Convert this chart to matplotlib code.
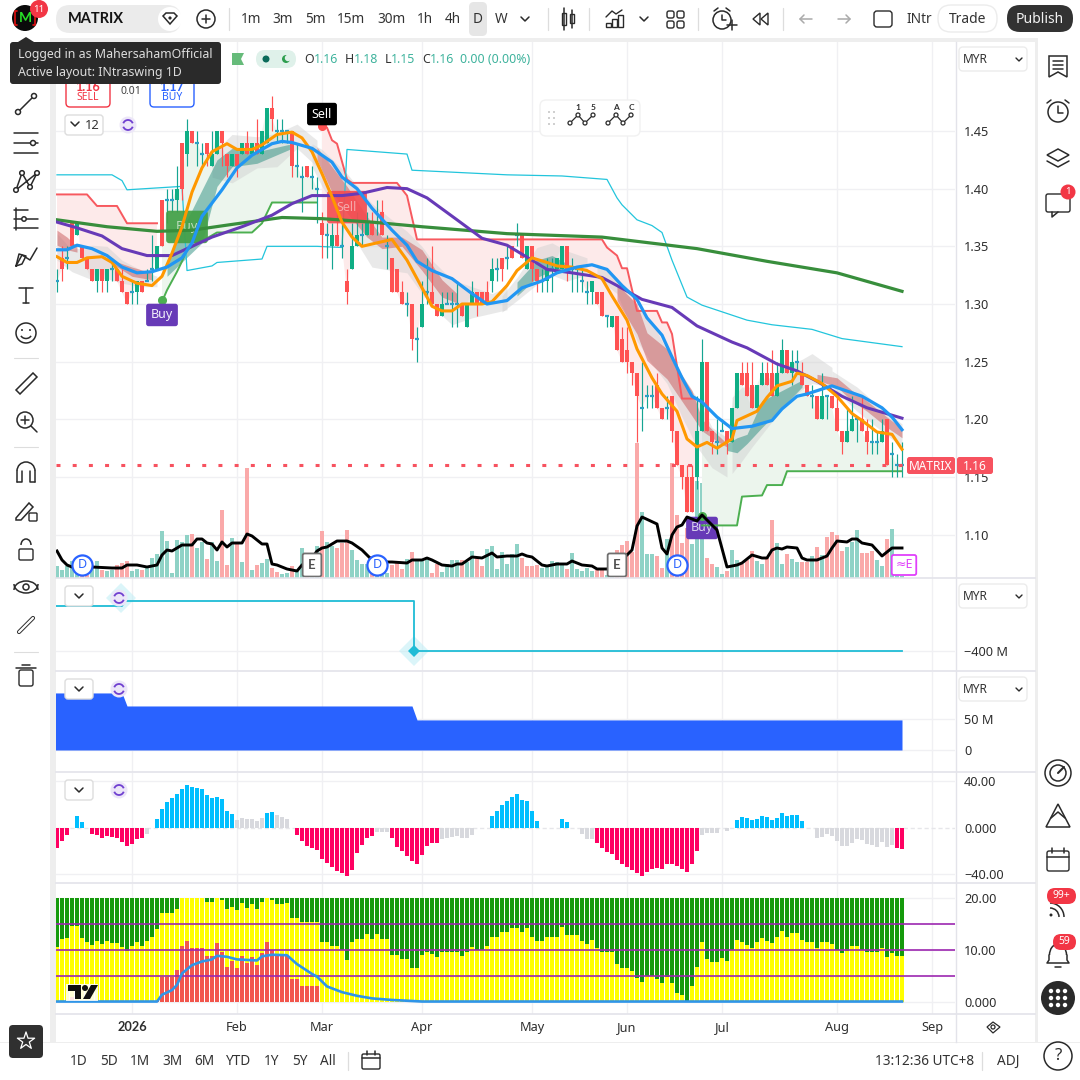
import numpy as np
import matplotlib
matplotlib.use("Agg")
import matplotlib.pyplot as plt
from matplotlib.patches import FancyBboxPatch, Circle, Rectangle, Polygon, Arc

plt.rcParams['font.family'] = ['Noto Sans', 'DejaVu Sans']
BOLD = ['Lato', 'DejaVu Sans']

W, H = 1080, 1080

# ---- candles, one per trading day (170 bars)
opens = [1.32,1.34,1.34,1.37,1.36,1.35,1.34,1.33,1.32,1.33,
         1.32,1.33,1.33,1.32,1.31,1.31,1.31,1.32,1.32,1.33,
         1.33,1.39,1.39,1.39,1.39,1.44,1.43,1.45,1.44,1.43,
         1.44,1.42,1.43,1.45,1.43,1.42,1.43,1.43,1.44,1.43,
         1.44,1.43,1.44,1.47,1.45,1.45,1.45,1.45,1.42,1.41,
         1.42,1.41,1.40,1.37,1.36,1.35,1.36,1.35,1.32,1.33,
         1.35,1.36,1.36,1.37,1.37,1.38,1.35,1.34,1.33,1.31,
         1.30,1.30,1.27,1.28,1.31,1.31,1.30,1.29,1.30,1.30,
         1.30,1.30,1.28,1.30,1.31,1.31,1.31,1.32,1.33,1.34,
         1.34,1.35,1.36,1.36,1.33,1.35,1.33,1.32,1.32,1.33,
         1.33,1.33,1.35,1.33,1.33,1.32,1.31,1.31,1.31,1.31,
         1.29,1.28,1.29,1.27,1.26,1.25,1.24,1.21,1.22,1.22,
         1.23,1.21,1.21,1.22,1.19,1.16,1.15,1.15,1.15,1.19,
         1.25,1.19,1.18,1.19,1.19,1.18,1.21,1.24,1.24,1.23,
         1.21,1.23,1.24,1.24,1.22,1.24,1.26,1.24,1.25,1.24,
         1.23,1.22,1.22,1.20,1.22,1.22,1.21,1.19,1.18,1.19,
         1.20,1.20,1.19,1.18,1.18,1.18,1.20,1.17,1.16,1.16]
highs = [1.33,1.35,1.35,1.37,1.37,1.35,1.34,1.33,1.33,1.33,
         1.33,1.34,1.33,1.33,1.31,1.32,1.32,1.32,1.33,1.36,
         1.35,1.39,1.40,1.40,1.42,1.44,1.46,1.45,1.45,1.44,
         1.44,1.45,1.45,1.45,1.43,1.43,1.43,1.44,1.45,1.44,
         1.46,1.45,1.47,1.48,1.46,1.46,1.45,1.45,1.44,1.42,
         1.42,1.42,1.41,1.38,1.37,1.37,1.38,1.37,1.33,1.37,
         1.38,1.37,1.38,1.38,1.39,1.39,1.36,1.34,1.33,1.32,
         1.31,1.30,1.28,1.32,1.34,1.35,1.30,1.31,1.31,1.31,
         1.32,1.30,1.30,1.32,1.31,1.31,1.32,1.34,1.34,1.34,
         1.35,1.35,1.37,1.36,1.35,1.35,1.33,1.33,1.34,1.34,
         1.34,1.35,1.35,1.34,1.33,1.33,1.32,1.32,1.31,1.31,
         1.29,1.29,1.29,1.28,1.28,1.25,1.24,1.25,1.23,1.23,
         1.24,1.21,1.22,1.22,1.19,1.16,1.16,1.16,1.22,1.27,
         1.25,1.19,1.20,1.20,1.19,1.21,1.24,1.25,1.25,1.25,
         1.23,1.25,1.25,1.26,1.25,1.27,1.26,1.26,1.26,1.25,
         1.23,1.23,1.22,1.24,1.22,1.22,1.22,1.19,1.21,1.22,
         1.20,1.22,1.20,1.20,1.19,1.20,1.20,1.18,1.17,1.18]
lows = [1.31,1.32,1.33,1.35,1.36,1.34,1.33,1.32,1.31,1.31,
        1.31,1.32,1.32,1.31,1.30,1.30,1.30,1.31,1.32,1.32,
        1.33,1.35,1.37,1.38,1.38,1.39,1.42,1.44,1.42,1.42,
        1.42,1.42,1.43,1.42,1.41,1.42,1.41,1.43,1.43,1.43,
        1.43,1.43,1.44,1.45,1.44,1.44,1.44,1.41,1.41,1.38,
        1.41,1.40,1.37,1.34,1.34,1.33,1.35,1.34,1.30,1.33,
        1.35,1.35,1.36,1.36,1.36,1.36,1.33,1.31,1.31,1.30,
        1.29,1.26,1.25,1.28,1.30,1.30,1.29,1.29,1.30,1.28,
        1.28,1.29,1.28,1.30,1.29,1.30,1.30,1.31,1.32,1.32,
        1.33,1.34,1.35,1.34,1.33,1.32,1.31,1.31,1.31,1.31,
        1.33,1.33,1.32,1.31,1.31,1.31,1.30,1.30,1.30,1.29,
        1.28,1.28,1.26,1.25,1.24,1.23,1.18,1.19,1.21,1.21,
        1.21,1.20,1.20,1.18,1.16,1.14,1.12,1.12,1.14,1.19,
        1.19,1.17,1.17,1.19,1.17,1.18,1.21,1.23,1.22,1.21,
        1.21,1.23,1.23,1.22,1.22,1.24,1.24,1.23,1.24,1.23,
        1.22,1.21,1.20,1.20,1.20,1.21,1.19,1.17,1.18,1.19,
        1.18,1.19,1.17,1.17,1.17,1.18,1.16,1.15,1.15,1.15]
closes = [1.32,1.33,1.34,1.35,1.37,1.34,1.33,1.32,1.33,1.32,
          1.33,1.33,1.32,1.31,1.30,1.31,1.32,1.31,1.32,1.33,
          1.35,1.35,1.39,1.39,1.40,1.40,1.45,1.44,1.44,1.43,
          1.43,1.43,1.45,1.44,1.42,1.43,1.42,1.44,1.43,1.44,
          1.43,1.45,1.47,1.46,1.45,1.45,1.45,1.42,1.42,1.41,
          1.41,1.41,1.40,1.36,1.36,1.36,1.35,1.35,1.31,1.35,
          1.36,1.36,1.37,1.36,1.37,1.36,1.35,1.31,1.31,1.30,
          1.30,1.27,1.27,1.30,1.31,1.30,1.29,1.30,1.30,1.30,
          1.30,1.29,1.30,1.31,1.30,1.30,1.30,1.33,1.33,1.33,
          1.34,1.34,1.36,1.34,1.35,1.33,1.32,1.32,1.33,1.33,
          1.34,1.35,1.33,1.33,1.33,1.32,1.31,1.32,1.30,1.29,
          1.29,1.29,1.26,1.25,1.25,1.24,1.22,1.21,1.22,1.22,
          1.21,1.20,1.21,1.19,1.16,1.15,1.12,1.12,1.19,1.25,
          1.19,1.18,1.18,1.19,1.18,1.21,1.24,1.23,1.22,1.21,
          1.23,1.24,1.23,1.22,1.24,1.26,1.24,1.25,1.25,1.23,
          1.22,1.22,1.20,1.22,1.22,1.21,1.19,1.18,1.19,1.20,
          1.20,1.19,1.18,1.18,1.18,1.19,1.16,1.17,1.16,1.16]

# ---- volume (same bars), with the days drawn red
volume = [12,8,12,17,12,5,3,12,17,8,7,8,13,15,17,7,9,8,12,20,
          24,47,37,5,38,36,43,44,30,36,19,36,17,68,13,40,34,16,110,8,
          13,15,19,10,6,4,5,12,8,30,3,5,32,47,36,32,30,35,48,28,
          18,14,14,22,5,3,5,13,16,9,19,26,18,18,21,5,14,6,14,18,
          18,18,16,27,20,12,29,32,9,26,14,24,34,20,12,12,13,10,12,17,
          16,15,9,25,9,7,10,7,8,8,3,3,28,33,37,26,135,66,24,24,
          22,10,39,115,63,35,50,34,97,95,20,14,11,4,7,28,18,14,18,27,
          17,14,20,58,35,14,24,19,16,16,16,22,31,23,41,46,43,27,31,36,
          48,25,25,27,18,12,39,49,3,2]
vol_red = [5,6,9,12,13,14,17,27,30,33,34,36,38,40,43,44,47,50,53,56,57,58,63,67,68,69,71,75,76,
           81,84,85,93,94,95,96,102,108,109,112,113,114,115,116,120,121,123,124,125,126,130,131,
           134,137,138,139,142,143,146,149,150,152,154,155,156,157,161,162,163,166]

# black oscillator over the volume
osc_x = [0,1,2,3,4,5,7,11,13,14,16,18,20,21,22,23,25,27,28,29,30,31,32,33,34,35,37,38,39,41,42,43,44,46,48,49,51,52,
         53,54,56,58,59,61,63,65,67,70,71,73,74,75,77,79,80,81,83,85,87,88,90,91,92,93,94,95,97,98,100,102,103,105,107,
         108,110,112,114,115,116,117,120,121,122,123,124,125,126,128,129,132,134,136,137,139,141,142,143,144,145,146,
         148,149,150,152,154,155,156,158,159,160,161,163,165,167,169]
osc_y = [27,18,13,11,11,11,11,10,10,13,13,11,13,23,28,27,33,33,39,39,35,34,28,36,31,35,35,44,42,34,34,14,13,9,7,13,20,27,
         30,31,37,37,35,28,18,16,16,15,18,18,20,18,13,12,14,14,21,20,25,21,22,22,22,24,22,21,13,12,14,14,17,13,12,
         9,9,15,23,28,52,61,54,30,24,43,51,53,61,57,63,48,11,13,15,23,20,20,28,30,29,31,
         30,20,18,18,22,30,37,36,39,39,35,33,22,30,30]

# ---- moving averages
orange_x = [0,2,4,6,9,11,13,16,19,21,23,25,27,29,31,34,36,39,41,44,47,49,51,53,55,57,59,61,64,67,70,73,75,77,79,81,85,87,90,
            92,95,98,100,103,106,109,111,114,116,119,121,124,126,128,130,132,135,136,138,140,142,144,147,148,150,153,156,159,161,164,167,169]
orange_y = [1.341,1.336,1.336,1.340,1.341,1.336,1.324,1.318,1.316,1.324,1.344,1.367,1.397,1.418,1.432,1.439,1.434,1.434,1.438,1.447,1.449,1.444,1.432,1.413,1.393,1.371,1.358,1.350,1.353,1.356,1.338,1.314,1.298,1.294,1.294,1.300,1.300,1.302,1.316,
            1.329,1.340,1.336,1.333,1.332,1.329,1.322,1.307,1.286,1.261,1.236,1.222,1.207,1.183,1.176,1.180,1.175,1.183,1.199,1.203,1.207,1.219,1.229,1.233,1.240,1.238,1.231,1.220,1.205,1.199,1.189,1.187,1.174]
blue_x = [0,2,4,7,10,13,16,19,22,25,27,29,33,36,39,43,45,47,51,55,57,60,63,67,70,72,75,79,83,86,90,
          93,97,100,104,107,110,113,116,118,121,123,125,127,129,132,135,139,143,145,148,150,155,159,161,165,167,169]
blue_y = [1.347,1.347,1.351,1.348,1.342,1.332,1.327,1.328,1.332,1.340,1.353,1.376,1.399,1.418,1.429,1.439,1.441,1.440,1.435,1.423,1.410,1.400,1.383,1.364,1.351,1.337,1.329,1.322,1.309,1.300,1.303,
          1.314,1.320,1.327,1.332,1.334,1.330,1.316,1.304,1.288,1.273,1.254,1.236,1.220,1.215,1.202,1.192,1.194,1.199,1.209,1.220,1.222,1.229,1.223,1.220,1.210,1.202,1.191]
purple_x = [0,4,9,13,18,23,27,31,37,43,47,51,57,61,66,70,74,80,85,90,95,98,103,109,112,117,123,128,130,135,138,144,148,152,157,162,169]
purple_y = [1.371,1.366,1.359,1.348,1.342,1.342,1.350,1.358,1.367,1.377,1.387,1.394,1.394,1.396,1.401,1.400,1.392,1.373,1.357,1.351,1.338,1.330,1.327,1.323,1.316,1.304,1.297,1.281,1.277,1.267,1.262,1.248,1.242,1.233,1.220,1.210,1.201]
green_x = [0,10,20,27,35,45,53,63,73,90,109,128,142,156,169]
green_y = [1.373,1.367,1.363,1.364,1.369,1.375,1.374,1.371,1.367,1.361,1.358,1.348,1.337,1.327,1.311]

# ---- cyan channel
cyan_x = [0,11,13,14,25,26,31,32,41,42,52,57,58,70,71,90,101,110,112,113,116,119,121,123,126,129,138,143,151,157,169]
cyan_y = [1.412,1.412,1.407,1.399,1.402,1.329,1.333,1.336,1.339,1.350,1.350,1.349,1.434,1.430,1.416,1.412,1.411,1.408,1.392,1.386,1.373,1.368,1.362,1.338,1.306,1.299,1.286,1.282,1.278,1.270,1.263]

# ---- trailing stop segments
red1_x = [0,6,8,12,14,20]
red1_y = [1.395,1.395,1.385,1.385,1.370,1.370]
red2_x = [53,54,55,56,58,59,68,70,72,109,110,112,113,114,116,120,121,122,123,125,128]
red2_y = [1.454,1.453,1.442,1.439,1.408,1.405,1.405,1.394,1.356,1.356,1.349,1.342,1.331,1.331,1.294,1.294,1.284,1.284,1.274,1.218,1.218]
grn1_x = [21,22,24,25,26,32,39,41,43,52]
grn1_y = [1.302,1.312,1.328,1.337,1.347,1.362,1.362,1.370,1.388,1.388]
grn2_x = [129,136,137,141,142,145,146,148,169]
grn2_y = [1.108,1.108,1.133,1.134,1.143,1.143,1.155,1.155,1.155]

# ---- grey clouds: x, top, bottom
gray_bands = [
    ([0,3,7,10,13,17,20], [1.361,1.347,1.351,1.350,1.338,1.329,1.324], [1.338,1.328,1.321,1.322,1.318,1.315,1.315]),
    ([31,35,40,44,48,52], [1.430,1.447,1.445,1.448,1.456,1.442], [1.410,1.405,1.418,1.419,1.435,1.419]),
    ([51,53,58,63,67,70,73,75,79,83,87,90], [1.439,1.434,1.413,1.387,1.373,1.363,1.350,1.338,1.321,1.315,1.309,1.315], [1.419,1.402,1.367,1.332,1.329,1.327,1.309,1.298,1.282,1.288,1.292,1.295]),
    ([89,92,96,99,102,106], [1.307,1.323,1.349,1.353,1.346,1.340], [1.293,1.303,1.317,1.325,1.320,1.325]),
    ([108,112,116,119,122,125,128,131,134], [1.335,1.323,1.297,1.284,1.260,1.236,1.219,1.193,1.184], [1.323,1.309,1.268,1.248,1.231,1.202,1.176,1.158,1.150]),
    ([135,137,139,141,145,149,151,155], [1.219,1.228,1.228,1.231,1.245,1.252,1.257,1.245], [1.153,1.164,1.176,1.187,1.209,1.226,1.231,1.228]),
    ([155,160,164,169], [1.242,1.228,1.213,1.196], [1.228,1.207,1.193,1.176]),
]
# ---- fast/slow ribbon: x, top, bottom
red_ribbons = [
    ([0,2,4], [1.364,1.358,1.350], [1.351,1.347,1.345]),
    ([11,15,19], [1.338,1.332,1.327], [1.335,1.324,1.321]),
    ([52,55,58,62,65,69,73,77,80], [1.436,1.419,1.402,1.376,1.358,1.358,1.347,1.321,1.309], [1.425,1.397,1.379,1.358,1.348,1.350,1.329,1.306,1.301]),
    ([112,116,118,122,124,127,129,132,134], [1.317,1.300,1.275,1.261,1.245,1.225,1.200,1.187,1.179], [1.303,1.274,1.251,1.235,1.222,1.203,1.190,1.181,1.176]),
    ([152,156,159,162,166,169], [1.239,1.236,1.225,1.216,1.202,1.192], [1.234,1.228,1.216,1.207,1.193,1.184]),
]
teal_ribbons = [
    ([22,29,32,35,40,47], [1.338,1.399,1.425,1.435,1.432,1.439], [1.324,1.353,1.402,1.419,1.422,1.435]),
    ([92,96,99,102], [1.319,1.338,1.342,1.335], [1.307,1.323,1.329,1.329]),
    ([134,136,138,141,145,149], [1.179,1.184,1.187,1.216,1.225,1.234], [1.173,1.171,1.179,1.193,1.210,1.228]),
]

# ---- lower panes
line2_x = [-1,13,13.6,71.4,71.4,169]
line2_y = [-220,-220,-200,-200,-400,-400]
area_x = [-1,13,14,71,72,169]
area_y = [92,92,71,71,48.5,48.5]
hist = [-17.3,-11.6,-6.4,0,10.1,4.6,0,-5.5,-6.4,-8.7,-7.2,-7.8,-8.7,-12.1,-15.9,-14.5,-10.1,-9.0,-5.8,0,
        7.5,15.9,22.3,25.7,29.2,33.5,36.7,35.3,34.1,33.2,28.0,25.7,26.6,24.6,14.5,11.6,6.6,8.1,7.2,7.5,
        5.8,8.1,12.4,13.3,10.7,9.2,7.5,0,-6.4,-11.6,-15.9,-17.3,-19.4,-26.6,-30.3,-34.1,-37.0,-39.3,-41.3,-36.1,
        -21.7,-15.0,-8.7,-7.5,-3.5,-3.5,-3.8,-8.7,-16.8,-20.2,-24.6,-28.9,-31.2,-23.7,-15.9,-13.0,-13.0,-10.1,-8.7,-7.8,
        -7.2,-8.7,-9.2,-6.6,0,0,0,10.1,14.5,19.7,23.1,26.6,28.9,24.0,23.1,14.5,5.8,0,0,0,
        0,7.5,4.6,0,0,-5.2,-10.1,-9.5,-13.0,-17.3,-20.8,-22.5,-27.5,-31.2,-33.5,-36.1,-39.0,-41.3,-38.1,-35.3,
        -34.7,-35.3,-31.2,-31.2,-32.7,-35.3,-38.1,-31.2,-19.7,-6.6,-4.9,-4.9,-4.9,0,-2.9,0,6.4,8.7,8.1,6.4,
        7.2,10.1,9.2,6.6,8.1,12.4,9.8,10.7,10.7,5.8,0,0,-9.2,-7.8,-5.8,-7.2,-11.6,-15.9,-15.9,-13.0,
        -10.1,-10.7,-13.9,-15.0,-16.8,-12.7,-16.5,-15.3,-17.3,-18.2]
hist_gray = [18,36,37,38,39,40,41,44,45,46,64,65,66,77,78,79,80,81,82,83,105,106,107,129,130,131,132,134,
             152,153,154,155,156,157,158,159,160,161,162,163,164,165,166,167]

yellow = [10.5,12.2,12.3,14.7,14.7,12.4,11.6,10.9,11.8,11.1,
          11.8,11.3,11.3,10.5,9.9,10.7,11.5,10.7,11.8,12.6,
          14.1,17.2,17.2,17.2,17.8,20,20,20,20,20,
          19.2,19.2,20,19.6,17.9,18.3,17.7,19.1,18.1,18.9,
          17.9,19.2,20,19.6,18.9,18.9,19.1,16.2,16.2,15.4,
          15.4,15.4,15.4,11.5,11.5,10.7,10.7,10.1,8.0,11.5,
          12.2,12.2,13.0,12.2,13.0,12.2,12.2,9.0,9.0,8.2,
          8.2,6.5,6.5,9.0,9.7,9.2,8.6,9.6,9.6,9.6,
          9.6,8.8,9.7,10.5,10.1,10.1,10.7,12.6,12.6,13.4,
          13.4,14.3,14.3,13.4,14.3,12.6,11.8,11.8,12.6,12.6,
          12.6,14.5,12.8,12.8,12.8,11.8,11.1,12.0,10.3,9.6,
          9.6,9.6,7.3,6.5,6.5,5.9,4.6,3.9,5.0,5.0,
          4.4,3.7,4.8,3.7,1.8,1.4,0.1,3.1,6.7,11.5,
          8.2,7.7,7.7,8.4,7.8,10.1,12.0,11.5,10.9,10.3,
          11.6,12.4,11.8,11.3,12.6,13.7,12.6,13.2,13.2,12.0,
          11.5,11.5,10.3,11.6,11.6,11.1,10.1,9.4,9.9,10.7,
          10.7,10.1,9.6,9.6,9.6,10.3,8.6,9.4,8.8,8.8]
red_bars = [0.2,0.2,0.2,1.0,0.3,0.2,0.2,0.2,0.2,0.2,0.2,0.2,0.2,0.2,0.2,0.2,0.2,0.2,0.2,0.2,0.2,
            4.9,4.9,4.9,6.1,10.7,11.8,10.3,10.3,10.3,8.8,8.8,11.3,9.7,6.7,7.8,6.5,8.8,7.5,8.6,7.1,9.4,11.6,10.1,9.2,9.0,9.0,
            4.4,4.4,3.1,3.1,3.1,3.1]
blue_osc_x = [0,20,21,23,24,25,27,29,31,32,34,36,40,41,43,46,48,51,52,54,57,60,63,67,73,169]
blue_osc_y = [0.1,0.1,1.4,2.3,3.3,5.5,7.1,7.8,8.2,8.9,8.7,8.2,8.0,8.8,9.1,9.0,7.3,5.4,4.9,3.0,1.9,1.2,0.7,0.4,0.1,0.1]

month_pos = [15,36,53,73,95,114,133,156,175]
month_lbl = ['2026','Feb','Mar','Apr','May','Jun','Jul','Aug','Sep']
div_bars = [5,64,124]
earn_bars = [51,112]

GRID = '#f0f0f3'
TXT = '#2e2e2e'
UP, DOWN = '#0fae85', '#ff5252'
WICK_UP = '#16a592'

fig = plt.figure(figsize=(W / 100, H / 100), dpi=100, facecolor='#eeeeee')
# white chart card behind every pane, price column and time row included
fig.patches.append(Rectangle((56 / W, 1 - 1042 / H), (1035 - 56) / W, 1000 / H, fc='white', ec='none',
                             transform=fig.transFigure, zorder=-1))


def pane(x0, y0, x1, y1, zorder=1):
    a = fig.add_axes([x0 / W, 1 - y1 / H, (x1 - x0) / W, (y1 - y0) / H], zorder=zorder)
    a.set_xlim((56 - 57) / 5, (955 - 57) / 5)
    for s in a.spines.values():
        s.set_visible(False)
    a.set_xticks(month_pos)
    a.set_xticklabels([])
    a.tick_params(length=0, labelright=True, labelleft=False, left=False, right=False, bottom=False,
                  labelsize=9.2, labelcolor=TXT, pad=6.5)
    a.yaxis.tick_right()
    a.grid(True, color=GRID, lw=1)
    a.set_axisbelow(True)
    return a


# ---- main pane
ax_vol = pane(56, 42, 955, 578, zorder=1)
ax_vol.set_ylim(0, 536)
ax_vol.set_yticks([])
ax = pane(56, 42, 955, 578, zorder=2)
ax.patch.set_alpha(0)
ax.set_ylim(1.45 - (578 - 131) / 1153.3, 1.45 + (131 - 42) / 1153.3)
ax.set_yticks([1.10, 1.15, 1.20, 1.25, 1.30, 1.35, 1.40, 1.45])
ax.set_yticklabels(['%.2f' % v for v in ax.get_yticks()])
ax.grid(False)
ax.xaxis.grid(False)
for v in ax.get_yticks():
    ax_vol.axhline((v - ax.get_ylim()[0]) * 1153.3, color=GRID, lw=1, zorder=0)
ax_vol.yaxis.grid(False)
ax_osc = pane(56, 42, 955, 578, zorder=3)
ax_osc.patch.set_alpha(0)
ax_osc.set_ylim(0, 536)
ax_osc.set_yticks([])
ax_osc.grid(False)

bars = np.arange(len(closes))
o, h, l, c = map(np.array, (opens, highs, lows, closes))

vol_col = ['#faa9a9' if i in vol_red else '#8fd2c6' for i in bars]
ax_vol.bar(bars, volume, width=0.78, color=vol_col, zorder=2)


def fill_to_close(a, sx, sy, color):
    sx = np.array(sx)
    keep = (bars >= sx[0]) & (bars <= sx[-1])
    a.fill(np.r_[sx, bars[keep][::-1]], np.r_[sy, c[keep][::-1]], color=color, lw=0, zorder=1)


fill_to_close(ax, red1_x, red1_y, '#fdeaea')
fill_to_close(ax, red2_x, red2_y, '#fdeaea')
fill_to_close(ax, grn1_x, grn1_y, '#ecf5ed')
fill_to_close(ax, grn2_x, grn2_y, '#ecf5ed')

for bx, top, bot in gray_bands:
    ax.fill_between(bx, top, bot, color='#cfcfcf', alpha=0.45, lw=0, zorder=2)
for bx, top, bot in red_ribbons:
    ax.fill_between(bx, top, bot, color='#c8585a', alpha=0.5, lw=0, zorder=2.1)
for bx, top, bot in teal_ribbons:
    ax.fill_between(bx, top, bot, color='#2b8f80', alpha=0.5, lw=0, zorder=2.1)

for sx, sy in ((red1_x, red1_y), (red2_x, red2_y)):
    ax.plot(sx, sy, color='#f7595f', lw=1.4, zorder=3)
for sx, sy in ((grn1_x, grn1_y), (grn2_x, grn2_y)):
    ax.plot(sx, sy, color='#4caf50', lw=1.4, zorder=3)
ax.plot(cyan_x, cyan_y, color='#22c5dc', lw=0.9, zorder=3)

up = c >= o
ax.vlines(bars[up], l[up], h[up], color=WICK_UP, lw=0.85, zorder=4)
ax.vlines(bars[~up], l[~up], h[~up], color=DOWN, lw=0.85, zorder=4)
ax.bar(bars, np.abs(c - o), bottom=np.minimum(o, c), width=0.62,
       color=[UP if u else DOWN for u in up], zorder=4.1)
flat = o == c
ax.plot(bars[flat], c[flat], ls='', marker='_', ms=3.5, mew=1.6, color='#2c9fc6', zorder=4.2)

ax.plot(green_x, green_y, color='#388e3c', lw=2.3, zorder=5)
ax.plot(purple_x, purple_y, color='#673ab7', lw=2.2, zorder=5)
ax.plot(orange_x, orange_y, color='#ff9800', lw=2.2, zorder=6)
ax.plot(blue_x, blue_y, color='#2196f3', lw=2.3, zorder=6.1)

# current price line
ax.plot([-0.2, 179.6], [1.16, 1.16], color='#f7525f', lw=2.2, ls=(0, (1.3, 4)), zorder=6.5)

# signal labels
ax.plot([21, 129], [1.3035, 1.1162], ls='', marker='o', ms=5.5, color='#4caf50', zorder=7)
ax.plot([53], [1.454], ls='', marker='o', ms=5.5, color='#ff5252', zorder=7)
ax.text(21, 1.2905, 'Buy', color='#f2f0fa', fontsize=9, ha='center', va='center', zorder=8,
        bbox=dict(boxstyle='round,pad=0.38,rounding_size=0.2', fc='#673ab7', ec='none'))
ax.text(129, 1.1058, 'Buy', color='#d9d3ec', fontsize=9, ha='center', va='center', zorder=2.5,
        bbox=dict(boxstyle='round,pad=0.38,rounding_size=0.2', fc='#673ab7', ec='none'))
ax.text(53, 1.4647, 'Sell', color='white', fontsize=9, ha='center', va='center', zorder=8,
        bbox=dict(boxstyle='round,pad=0.38,rounding_size=0.2', fc='black', ec='none'))
ax.text(26, 1.3668, 'Buy', color='#bcdcbc', fontsize=9, ha='center', va='center', zorder=4.5,
        bbox=dict(boxstyle='round,pad=0.78,rounding_size=0.25', fc='#43a047', ec='none', alpha=0.93))
ax.text(58, 1.384, 'Sell', color='#f5a8a8', fontsize=9, ha='center', va='center', zorder=4.5,
        bbox=dict(boxstyle='round,pad=0.78,rounding_size=0.2', fc='#f44b4f', ec='none', alpha=0.9))

# oscillator and event flags on top
ax_osc.plot(osc_x, osc_y, color='black', lw=2.1, solid_joinstyle='round', zorder=3)
for b in div_bars:
    ax_osc.plot(b, 13, marker='o', ms=14.5, mfc='white', mec='#2962ff', mew=1.6, zorder=5)
    ax_osc.text(b, 13, 'D', color='#2962ff', fontsize=9, ha='center', va='center', zorder=6)
for b in earn_bars:
    ax_osc.text(b, 13, 'E', color='#505050', fontsize=9.5, family=BOLD, fontweight='bold', ha='center', va='center', zorder=6,
                bbox=dict(boxstyle='round,pad=0.42,rounding_size=0.15', fc='white', ec='#707070', lw=1.3))
ax_osc.text(169.4, 13, '≈E', color='#e040fb', fontsize=9, ha='center', va='center', zorder=6,
            bbox=dict(boxstyle='round,pad=0.28,rounding_size=0.15', fc='white', ec='#e040fb', lw=1.3))

# ---- flow line pane
a2 = pane(56, 578, 955, 671)
a2.set_ylim(-480, -108)
a2.set_yticks([-400])
a2.set_yticklabels(['−400 M'])
a2.plot(line2_x, line2_y, color='#1fbcd6', lw=1.3, zorder=3)
a2.plot([12.8, 71.4], [-188, -400], ls='', marker='D', ms=15, color='#bfeef5', alpha=0.55, mew=0, zorder=2)
a2.plot([12.8, 71.4], [-188, -400], ls='', marker='D', ms=6.5, color='#1fbcd6', mew=0, zorder=4)

# ---- area pane
a3 = pane(56, 672, 955, 772)
a3.set_ylim(-35.5, 125.8)
a3.set_yticks([0, 50])
a3.set_yticklabels(['0', '50 M'])
a3.fill_between(area_x, area_y, 0, color='#2962ff', lw=0, zorder=3)

# ---- histogram pane
a4 = pane(56, 773, 955, 883)
a4.set_ylim(-47.6, 46.9)
a4.set_yticks([-40, 0, 40])
a4.set_yticklabels(['−40.00', '0.000', '40.00'])
a4.yaxis.grid(False)
a4.axhline(40, color=GRID, lw=1)
a4.axhline(-40, color=GRID, lw=1)
a4.axhline(0, color='#e6e6ea', lw=1, ls=(0, (3, 2)))
hist_col = ['#d8d9de' if i in hist_gray else ('#00bfff' if v > 0 else '#ff0062') for i, v in enumerate(hist)]
a4.bar(bars, hist, width=0.78, color=hist_col, zorder=3)

# ---- stacked pane
a5 = pane(56, 884, 955, 1014)
a5.set_ylim(-2.3, 22.7)
a5.set_yticks([0, 10, 20])
a5.set_yticklabels(['0.000', '10.00', '20.00'])
a5.set_xticklabels(month_lbl)
a5.tick_params(axis='x', labelbottom=True, pad=5, labelsize=9.2, labelcolor=TXT)
a5.get_xticklabels()[0].set_fontweight('bold')
a5.get_xticklabels()[0].set_family(BOLD)
a5.bar(bars, [20] * len(bars), width=0.82, color='#159a0b', zorder=2)
a5.bar(bars, yellow, width=0.82, color='#ffff00', zorder=2.1)
a5.bar(bars[:len(red_bars)], red_bars, width=0.82, color='#f2564d', zorder=2.2)
for lvl in (5, 10, 15):
    a5.axhline(lvl, color='#9c27b0', lw=1.2, zorder=3)
a5.plot(blue_osc_x, blue_osc_y, color='#2f95e8', lw=1.9, zorder=4)

# ---- interface chrome, in pixel coordinates
ui = fig.add_axes([0, 0, 1, 1], zorder=10)
ui.set_xlim(0, W)
ui.set_ylim(H, 0)
ui.axis('off')
ui.patch.set_alpha(0)
ICON = '#2a2a2a'


def rrect(x0, y0, x1, y1, r=4, fc='white', ec='none', lw=1, z=1, alpha=None):
    ui.add_patch(FancyBboxPatch((x0, y0), x1 - x0, y1 - y0, boxstyle='round,pad=0,rounding_size=%g' % r,
                                fc=fc, ec=ec, lw=lw, zorder=z, alpha=alpha))


def txt(x, y, s, size=10, color=TXT, ha='center', weight='normal', z=5):
    fam = BOLD if weight == 'bold' else None
    ui.text(x, y + 1, s, fontsize=size, color=color, ha=ha, va='center', fontweight=weight, family=fam, zorder=z)


def seg(xs, ys, lw=1.1, color=ICON, z=4):
    ui.plot(xs, ys, color=color, lw=lw, zorder=z, solid_capstyle='round')


def circ(x, y, r, fc='none', ec=ICON, lw=1.1, z=4):
    ui.add_patch(Circle((x, y), r, fc=fc, ec=ec, lw=lw, zorder=z))


# bars around the panes
ui.add_patch(Rectangle((0, 0), W, 38, fc='white', ec='none', zorder=0.5))
ui.add_patch(Rectangle((0, 38), 50, 1004, fc='white', ec='none', zorder=0.5))
ui.add_patch(Rectangle((1038, 38), 42, 1004, fc='white', ec='none', zorder=0.5))
ui.add_patch(Rectangle((0, 1043), W, 37, fc='white', ec='none', zorder=0.5))
for yy in (578, 671, 772, 883, 1014):
    ui.plot([56, 1035], [yy, yy], color='#e3e3ea', lw=1.2, zorder=0.8)
ui.plot([955.5, 955.5], [42, 1042], color='#e3e3ea', lw=1, zorder=0.8)

# top toolbar
circ(25, 18, 13, fc='#0a0a0a', ec='none')
txt(25, 17, 'M', size=10, color='#26e026', weight='bold')
seg([17, 15, 15, 17], [11, 11, 25, 25], color='#e01010', lw=1.2)
seg([33, 35, 35, 33], [11, 11, 25, 25], color='#e01010', lw=1.2)
circ(39, 9, 9, fc='#f23645', ec='none')
txt(39, 8, '11', size=7, color='white')
rrect(56, 5, 181, 33, r=14, fc='#ebebeb')
txt(68, 18, 'MATRIX', size=10.5, weight='bold', ha='left', color='#131313')
circ(170, 19, 12, fc='white', ec='none')
ui.add_patch(Polygon([(163, 16), (166, 13), (174, 13), (177, 16), (170, 24)], fc='none', ec=ICON, lw=1.1, zorder=6))
circ(170, 18, 1.6, fc=ICON, ec='none', z=7)
circ(206, 19, 9)
seg([202, 210], [19, 19])
seg([206, 206], [15, 23])
for xx in (229, 548, 589, 698, 783):
    seg([xx, xx], [8, 30], color='#dddddd', lw=0.9)
for xx, s in zip((251, 283, 315, 351, 391, 425, 453, 478, 501),
                 ('1m', '3m', '5m', '15m', '30m', '1h', '4h', 'D', 'W')):
    txt(xx, 18.5, s, size=9.8, color='#333333')
rrect(469, 2, 487, 36, r=5, fc='#e6e6e6', z=1)
seg([521, 525, 529], [17, 21, 17])
seg([640, 644, 648], [17, 21, 17])
# candle icon
ui.add_patch(Rectangle((562, 13), 4, 12, fc='none', ec=ICON, lw=1, zorder=4))
seg([564, 564], [8, 30])
ui.add_patch(Rectangle((570, 14), 4, 9, fc='none', ec=ICON, lw=1, zorder=4))
seg([572, 572], [10, 28])
# indicators icon
seg([606, 612, 616, 622], [17, 11, 14, 10], lw=1)
for xx, t in ((608, 23), (614, 19), (620, 15)):
    ui.add_patch(Rectangle((xx - 2.5, t), 5, 27 - t, fc='none', ec=ICON, lw=1, zorder=4))
for xx in (667, 677):
    for yy in (11, 21):
        rrect(xx, yy, xx + 7, yy + 7, r=2, fc='none', ec=ICON)
circ(722, 20, 9)
seg([722, 722, 726], [15, 20, 20])
seg([714, 718], [11, 8])
seg([730, 726], [11, 8])
seg([727, 737], [25, 25])
seg([732, 732], [20, 30])
ui.add_patch(Polygon([(753, 19), (760, 13), (760, 25)], fc='none', ec=ICON, lw=1, zorder=4))
ui.add_patch(Polygon([(761, 19), (768, 13), (768, 25)], fc='none', ec=ICON, lw=1, zorder=4))
seg([800, 812], [19, 19], color='#aaaaaa')
seg([804, 800, 804], [15, 19, 23], color='#aaaaaa')
seg([838, 850], [19, 19], color='#aaaaaa')
seg([846, 850, 846], [15, 19, 23], color='#aaaaaa')
rrect(874, 11, 892, 27, r=3, fc='none', ec=ICON)
txt(907, 18.5, 'INtr', size=9.8, ha='left', color='#333333')
rrect(938, 5, 997, 32, r=13, fc='white', ec='#ececec')
txt(968, 18.5, 'Trade', size=10, color='#333333')
rrect(1007, 5, 1073, 32, r=13, fc='#323232')
txt(1040, 18.5, 'Publish', size=10, color='#f2f2f2')

# tooltip and legend row
ui.add_patch(Polygon([(18, 42), (26, 37), (34, 42)], fc='#2a2a2a', ec='none', zorder=7))
rrect(10, 42, 221, 84, r=3, fc='#2a2a2a', z=7)
txt(18, 53.5, 'Logged in as MahersahamOfficial', size=8.9, color='#dddddd', ha='left', z=8)
txt(18, 71.5, 'Active layout: INtraswing 1D', size=8.9, color='#dddddd', ha='left', z=8)
ui.add_patch(Polygon([(232, 53), (244, 53), (241, 59), (244, 65), (232, 65)], fc='#66bb7a', ec='none', zorder=4))
rrect(256, 50, 296, 68, r=9, fc='#dff1ea')
circ(266, 59, 3.5, fc='#0b6b5a', ec='none')
circ(286, 59, 4, fc='#2e9e4f', ec='none')
circ(288, 58, 3.2, fc='#dff1ea', ec='none', z=4.5)
x_cur = 304
for head, val in (('O', '1.16'), ('H', '1.18'), ('L', '1.15'), ('C', '1.16')):
    t = ui.text(x_cur, 59.5, head, fontsize=8.9, color='#333333', va='center', zorder=5)
    w = t.get_window_extent(fig.canvas.get_renderer()).width
    t2 = ui.text(x_cur + w, 59.5, val, fontsize=8.9, color='#3fb39d', va='center', zorder=5)
    x_cur += w + t2.get_window_extent(fig.canvas.get_renderer()).width + 6.5
txt(x_cur - 1, 58.5, '0.00 (0.00%)', size=8.9, color='#3fb39d', ha='left')

# trade buttons (their top edge sits under the tooltip)
rrect(66, 70, 110, 107, r=4, fc='white', ec='#f23645')
txt(88, 86, '1.16', size=9, color='#f23645', weight='bold')
txt(88, 97, 'SELL', size=7.5, color='#f23645')
txt(131, 90, '0.01', size=7.5, color='#444444')
rrect(150, 70, 194, 107, r=4, fc='white', ec='#2962ff')
txt(172, 86, '1.17', size=9, color='#2962ff', weight='bold')
txt(172, 97, 'BUY', size=7.5, color='#2962ff')

# collapse buttons
rrect(65, 115, 103, 135, r=3, fc='white', ec='#dddddd')
seg([71, 75, 79], [122, 126, 122])
txt(92, 124.5, '12', size=9.3, color='#333333')
for xx, yy in ((79, 596), (79, 689), (79, 790)):
    rrect(xx - 14, yy - 10, xx + 14, yy + 10, r=3, fc='white', ec='#dddddd')
    seg([xx - 4, xx, xx + 4], [yy - 2, yy + 2, yy - 2])
for xx, yy in ((128, 125), (119, 598), (119, 689), (119, 790)):
    circ(xx, yy, 8.5, fc='#ece6f8', ec='none')
    ui.add_patch(Arc((xx, yy), 10, 10, theta1=200, theta2=340, ec='#6f3fd0', lw=1.3, zorder=5))
    ui.add_patch(Arc((xx, yy), 10, 10, theta1=20, theta2=160, ec='#6f3fd0', lw=1.3, zorder=5))

# floating wave widget
rrect(540, 100, 640, 136, r=6, fc='white', ec='#f1f1f1', z=3)
for xx in (549, 554):
    for yy in (112, 118, 124):
        circ(xx, yy, 1, fc='#c4c4c4', ec='none')
for x0, (l1, l2) in ((570, ('1', '5')), (608, ('A', 'C'))):
    xs = [x0 + d for d in (0, 8, 15, 23)]
    ys = [123, 115, 123, 115]
    seg(xs, ys, lw=0.9)
    for xx, yy in zip(xs, ys):
        circ(xx, yy, 2, fc='white', lw=0.9, z=5)
    txt(x0 + 8, 107, l1, size=6, weight='bold')
    txt(x0 + 23, 107, l2, size=6, weight='bold')

# currency boxes
for yy in (59, 596, 689):
    rrect(959, yy - 12, 1027, yy + 12, r=4, fc='white', ec='#ececec')
    txt(963, yy - 0.5, 'MYR', size=8.6, ha='left', color='#333333')
    seg([1016, 1019, 1022], [yy - 1, yy + 2, yy - 1], lw=1)

# price tag
rrect(907, 457, 955, 474, r=2.5, fc='#f7525f')
txt(931, 465, 'MATRIX', size=8.6, color='white')
rrect(957, 457, 993, 474, r=2.5, fc='#f7525f')
txt(975, 465, '1.16', size=8.6, color='white')

# tradingview mark in the last pane
ui.add_patch(Rectangle((66, 984), 32, 17, fc='white', ec='none', alpha=0.85, zorder=3))
ui.add_patch(Polygon([(68, 985), (81, 985), (81, 999), (75, 999), (75, 991), (68, 991)], fc='#111111', ec='none', zorder=4))
circ(85, 988, 3, fc='#111111', ec='none')
ui.add_patch(Polygon([(91, 985), (98, 985), (90, 999), (83, 999)], fc='#111111', ec='none', zorder=4))

# left tool column
seg([18, 34], [112, 96])
circ(18, 112, 2.5, fc='white')
circ(34, 96, 2.5, fc='white')
for yy, xr in ((133, 38), (143, 38), (153, 38)):
    seg([14, xr], [yy, yy])
circ(33, 143, 2.5, fc='white')
ax_pts = [(16, 190), (22, 173), (30, 187), (37, 173)]
seg([p[0] for p in ax_pts] + [16], [p[1] for p in ax_pts] + [190])
for p in ax_pts:
    circ(p[0], p[1], 2.3, fc='white')
for yy, x1 in ((210, 28), (219, 38), (228, 38)):
    seg([14, x1], [yy, yy])
seg([16, 16], [208, 230])
circ(24, 219, 2.2, fc='white')
seg([16, 22, 30, 37], [266, 255, 260, 248])
seg([16, 19, 26, 22, 16], [266, 254, 256, 264, 266])
seg([19, 33], [288, 288])
seg([26, 26], [288, 303])
seg([23, 29], [303, 303])
circ(26, 333, 10)
circ(22, 330, 1, fc=ICON, ec='none')
circ(30, 330, 1, fc=ICON, ec='none')
ui.add_patch(Arc((26, 334), 11, 9, theta1=20, theta2=160, ec=ICON, lw=1.1, zorder=4))
ui.add_patch(Polygon([(16, 390), (33, 373), (37, 377), (20, 394)], fc='none', ec=ICON, lw=1.1, zorder=4))
circ(25, 420, 8)
seg([31, 37], [426, 432])
seg([21, 29], [420, 420])
seg([25, 25], [416, 424])
for yy in (358, 447, 652):
    seg([14, 38], [yy, yy], color='#dddddd', lw=0.8)
ui.add_patch(Arc((26, 471), 18, 18, theta1=180, theta2=360, ec=ICON, lw=1.1, zorder=4))
seg([17, 17], [471, 482])
seg([35, 35], [471, 482])
seg([17, 22, 22], [482, 482, 471])
seg([35, 30, 30], [482, 482, 471])
ui.add_patch(Polygon([(16, 518), (29, 503), (33, 507), (21, 520), (16, 520)], fc='none', ec=ICON, lw=1.1, zorder=4))
rrect(29, 513, 37, 521, r=1, fc='white', ec=ICON)
rrect(19, 549, 33, 560, r=1.5, fc='none', ec=ICON)
ui.add_patch(Arc((26, 545), 10, 12, theta1=180, theta2=360, ec=ICON, lw=1.1, zorder=4))
ui.add_patch(Arc((26, 590), 24, 18, theta1=180, theta2=360, ec=ICON, lw=1.1, zorder=4))
ui.add_patch(Arc((26, 584), 24, 18, theta1=0, theta2=180, ec=ICON, lw=1.1, zorder=4))
circ(26, 587, 3)
seg([19, 33], [632, 618], lw=3, color=ICON)
seg([19, 33], [632, 618], lw=1.6, color='white', z=5)
rrect(19, 670, 33, 686, r=2, fc='none', ec=ICON)
seg([16, 36], [668, 668])
seg([22, 30], [665, 665])
rrect(9, 1025, 43, 1058, r=4, fc='#303030')
ui.scatter([26], [1041], marker='*', s=170, fc='none', ec='white', lw=0.9, zorder=5)

# right tool column
XR = 1058
ui.add_patch(Polygon([(XR - 9, 56), (XR + 9, 56), (XR + 9, 77), (XR, 72), (XR - 9, 77)], fc='none', ec=ICON, lw=1.1, zorder=4))
for yy in (61, 65, 69):
    seg([XR - 5, XR + 5], [yy, yy])
circ(XR, 112, 10)
seg([XR, XR, XR + 5], [106, 113, 113])
seg([XR - 11, XR - 7], [103, 100])
seg([XR + 11, XR + 7], [103, 100])
ui.add_patch(Polygon([(XR - 11, 155), (XR, 149), (XR + 11, 155), (XR, 161)], fc='none', ec=ICON, lw=1.1, zorder=4))
seg([XR - 11, XR, XR + 11], [161, 167, 161])
rrect(XR - 12, 194, XR + 12, 212, r=2, fc='none', ec=ICON)
seg([XR - 6, XR - 6, XR], [212, 217, 212])
circ(1068, 192, 7.5, fc='#f23645', ec='none', z=6)
txt(1068, 191, '1', size=7, color='white', z=7)
circ(XR, 773, 13)
circ(XR, 773, 8)
seg([XR, XR + 6], [773, 767], lw=1.5)
ui.add_patch(Polygon([(XR - 12, 827), (XR, 804), (XR + 12, 827)], fc='none', ec=ICON, lw=1.1, zorder=4))
seg([XR - 7, XR, XR + 7], [818, 812, 818])
rrect(XR - 11, 851, XR + 11, 871, r=2, fc='none', ec=ICON)
seg([XR - 11, XR + 11], [857, 857])
seg([XR - 6, XR - 6], [848, 853])
seg([XR + 6, XR + 6], [848, 853])
ui.add_patch(Arc((XR - 8, 917), 28, 28, theta1=-90, theta2=0, ec=ICON, lw=1.1, zorder=4))
ui.add_patch(Arc((XR - 8, 917), 18, 18, theta1=-90, theta2=0, ec=ICON, lw=1.1, zorder=4))
circ(XR - 7, 915, 1.5, fc=ICON, ec='none')
rrect(1047, 888, 1076, 904, r=8, fc='#f23645', z=6)
txt(1061.5, 895, '99+', size=7.5, color='white', z=7)
ui.add_patch(Arc((XR, 955), 17, 22, theta1=180, theta2=360, ec=ICON, lw=1.1, zorder=4))
seg([XR - 9, XR - 9, XR - 11, XR + 11, XR + 9, XR + 9], [955, 960, 963, 963, 960, 955])
seg([XR - 3, XR + 3], [967, 967])
rrect(1053, 934, 1076, 950, r=8, fc='#f23645', z=6)
txt(1064.5, 941, '59', size=7.5, color='white', z=7)
circ(XR, 998, 17, fc='#2a2a2a', ec='none')
for xx in (-7, 0, 7):
    for yy in (-7, 0, 7):
        circ(XR + xx, 998 + yy, 2.2, fc='white', ec='none', z=5)
circ(XR, 1056, 14)
txt(XR, 1055, '?', size=12, color=ICON)

# bottom row
for xx, s in zip((79, 109, 140, 172, 204, 239, 272, 300, 328),
                 ('1D', '5D', '1M', '3M', '6M', 'YTD', '1Y', '5Y', 'All')):
    txt(xx, 1060.5, s, size=9.8, color='#333333')
seg([348, 348], [1052, 1070], color='#dddddd', lw=0.9)
rrect(362, 1054, 380, 1069, r=1.5, fc='none', ec=ICON)
seg([362, 380], [1058, 1058])
seg([367, 367], [1051, 1055])
seg([375, 375], [1051, 1055])
txt(925, 1060.5, '13:12:36 UTC+8', size=9.8, color='#333333')
seg([982, 982], [1052, 1070], color='#dddddd', lw=0.9)
txt(1008, 1060.5, 'ADJ', size=9.8, color='#333333')
ui.add_patch(Polygon([(987, 1027), (993, 1022), (1000, 1027), (993, 1033)], fc='none', ec=ICON, lw=0.9, zorder=4))
circ(993, 1027, 2, lw=0.9)

fig.savefig('out.png', dpi=100, facecolor=fig.get_facecolor())
plt.close(fig)
